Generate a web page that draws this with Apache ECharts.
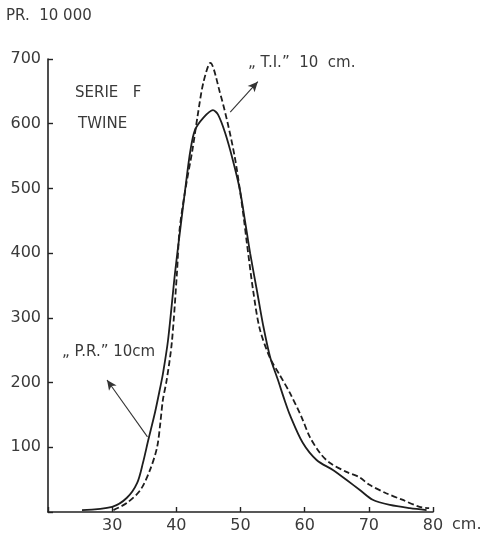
<!DOCTYPE html>
<html><head><meta charset="utf-8">
<script src="https://cdn.jsdelivr.net/npm/echarts@6/dist/echarts.min.js"></script>
<style>html,body{margin:0;padding:0;background:#fff}#c{width:486px;height:536px}</style>
</head><body><div id="c"></div>
<script>
const xTicks = [20, 30, 40, 50, 60, 70, 80];
const yTicks = [0, 100, 200, 300, 400, 500, 600, 700];
// "P.R." 10 cm (solid)
const prX = [25.3, 30, 32.3, 33.9, 34.8, 35.6, 36.7, 37.5, 37.9, 38.7, 39.8, 40.6, 41.5, 42.2, 42.9, 44.2, 45.7, 46.5, 47.6, 48.8, 49.9, 50.7, 51.5, 52.6, 53.5, 54.6, 55.8, 56.9, 57.7, 59.7, 61.9, 64.4, 66.6, 68.6, 70.6, 73.3, 76.4, 79];
const prY = [3, 8, 22, 45, 76, 110, 155, 193, 213, 265, 370, 436, 508, 559, 590, 609, 621, 614, 586, 544, 498, 450, 400, 340, 290, 240, 205, 172, 150, 107, 80, 65, 49, 34, 19, 11, 6, 3];
// "T.I." 10 cm (dashed)
const tiX = [30.2, 32.3, 34.4, 35.9, 37, 37.5, 37.9, 38.5, 39.3, 40.1, 40.5, 41.4, 42.5, 43.3, 44.2, 45.3, 46.8, 48.0, 49.1, 49.9, 50.5, 51.0, 52.0, 53.0, 54.6, 56.1, 57.7, 59.5, 60.8, 62.4, 63.9, 66.5, 68.5, 70.1, 72.7, 75.2, 77.9, 79.4];
const tiY = [3, 14, 34, 65, 100, 137, 173, 204, 262, 370, 436, 498, 559, 611, 663, 694, 648, 601, 549, 498, 455, 415, 340, 283, 238, 212, 184, 147, 116, 91, 76, 62, 54, 42, 29, 19, 8, 6];
// annotation arrows [from, to]
const tiArrow = [[48.4, 618], [52.7, 665]];
const prArrow = [[35.5, 116], [29.2, 204]];

const font = 'DejaVu Sans';
const txt = '#3a3a3a';
const chart = echarts.init(document.getElementById('c'), null, {renderer: 'canvas'});
const pairs = (xs, ys) => xs.map((x, i) => [x, ys[i]]);
chart.setOption({
  animation: false,
  grid: {left: 48, right: 53, top: 59, bottom: 24},
  xAxis: {
    type: 'value', min: 20, max: 80, interval: 10,
    axisLine: {lineStyle: {color: '#222', width: 1.6}},
    axisTick: {inside: true, length: 5, lineStyle: {color: '#222', width: 1.4}},
    splitLine: {show: false},
    axisLabel: {fontFamily: font, fontSize: 16, color: txt, margin: 6,
      formatter: v => (v === 20 ? '' : String(v))}
  },
  yAxis: {
    type: 'value', min: 0, max: 700, interval: 100,
    axisLine: {show: true, lineStyle: {color: '#222', width: 1.6}},
    axisTick: {show: true, inside: true, length: 5, lineStyle: {color: '#222', width: 1.4}},
    splitLine: {show: false},
    axisLabel: {fontFamily: font, fontSize: 16, color: txt, margin: 7,
      formatter: v => (v === 0 ? '' : String(v))}
  },
  graphic: [
    {type: 'text', left: 6, top: 9, style: {text: 'PR.  10 000', font: '15px ' + font, fill: txt}},
    {type: 'text', left: 75, top: 86, style: {text: 'SERIE   F', font: '15px ' + font, fill: txt}},
    {type: 'text', left: 78, top: 117, style: {text: 'TWINE', font: '15px ' + font, fill: txt}},
    {type: 'text', left: 248, top: 56, style: {text: '\u201E T.I.\u201D  10  cm.', font: '15px ' + font, fill: txt}},
    {type: 'text', left: 62, top: 345, style: {text: '\u201E P.R.\u201D 10cm', font: '15px ' + font, fill: txt}},
    {type: 'text', left: 452, top: 517, style: {text: 'cm.', font: '16px ' + font, fill: txt}}
  ],
  series: [
    {
      type: 'line', name: 'P.R.', data: pairs(prX, prY), showSymbol: false, smooth: 0.3,
      lineStyle: {color: '#1e1e1e', width: 1.8},
      markLine: {silent: true, symbol: ['none', 'arrow'], symbolSize: [7, 10],
        lineStyle: {color: '#333', width: 1.1, type: 'solid'}, label: {show: false},
        data: [[{coord: prArrow[0]}, {coord: prArrow[1]}]]}
    },
    {
      type: 'line', name: 'T.I.', data: pairs(tiX, tiY), showSymbol: false, smooth: 0.3,
      lineStyle: {color: '#1e1e1e', width: 1.8, type: [6, 3]},
      markLine: {silent: true, symbol: ['none', 'arrow'], symbolSize: [7, 10],
        lineStyle: {color: '#333', width: 1.1, type: 'solid'}, label: {show: false},
        data: [[{coord: tiArrow[0]}, {coord: tiArrow[1]}]]}
    }
  ]
});
</script></body></html>
